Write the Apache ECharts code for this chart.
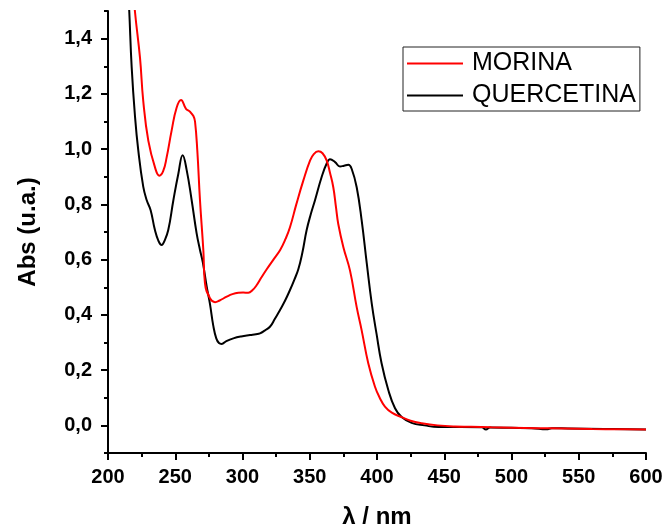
<!DOCTYPE html>
<html>
<head>
<meta charset="utf-8">
<script src="https://cdn.jsdelivr.net/npm/echarts@6/dist/echarts.min.js"></script>
<style>
  html, body { margin: 0; padding: 0; background: #fff; }
  #chart { width: 665px; height: 531px; }
</style>
</head>
<body>
<div id="chart"></div>
<script>
// UV-Vis absorption spectra: [wavelength (nm), absorbance]
const seriesNames = ['MORINA', 'QUERCETINA'];

const morina = [
  [219.5, 1.55], [220, 1.50], [223.8, 1.33], [226.2, 1.175], [230, 1.03],
  [235, 0.933], [238.2, 0.904], [241, 0.92], [243.6, 0.97], [247.3, 1.067],
  [251, 1.15], [254.3, 1.178], [258, 1.146], [261, 1.135], [263.5, 1.12],
  [264.7, 1.10], [266.4, 0.995], [268.4, 0.814], [270.9, 0.633], [272.1, 0.514],
  [275.8, 0.46], [279.6, 0.446], [283, 0.452], [288.3, 0.466], [292.5, 0.475],
  [296.9, 0.48], [300.5, 0.481], [304.3, 0.48], [307.5, 0.49], [310.6, 0.508],
  [314, 0.535], [318, 0.565], [323, 0.60], [328, 0.635], [332, 0.675],
  [335.3, 0.717], [340, 0.80], [345.2, 0.886], [350.2, 0.958], [353, 0.982],
  [356.4, 0.992], [359.5, 0.985], [362.6, 0.958], [365, 0.915], [367.5, 0.862],
  [369.5, 0.79], [371.2, 0.729], [375, 0.645], [379.9, 0.561], [384.9, 0.428],
  [388.6, 0.344], [393.5, 0.225], [398.5, 0.14], [402, 0.10], [405.9, 0.068],
  [411, 0.046], [418.3, 0.03], [425, 0.017], [433.2, 0.008], [445, 0.0],
  [458, -0.004], [470, -0.005], [485, -0.007], [500, -0.0085], [520, -0.01],
  [540, -0.011], [560, -0.013], [580, -0.014], [600, -0.015]
];

const quercetina = [
  [215.2, 1.55], [215.8, 1.50], [217.6, 1.297], [220.1, 1.117], [222.5, 0.996],
  [226.2, 0.864], [228.8, 0.815], [231.7, 0.779], [234.9, 0.707], [237.5, 0.668],
  [239.9, 0.653], [242, 0.668], [244.8, 0.707], [248.6, 0.815], [252.3, 0.911],
  [255.5, 0.978], [258.5, 0.924], [262.2, 0.815], [265.9, 0.695], [268.4, 0.635],
  [270.5, 0.59], [273.4, 0.502], [275.8, 0.44], [278.3, 0.36], [280.5, 0.315],
  [282.5, 0.298], [284.5, 0.295], [288, 0.305], [293.2, 0.315], [299, 0.322],
  [305.6, 0.327], [310, 0.33], [313, 0.333], [316.5, 0.343], [320.4, 0.357],
  [324, 0.385], [327.9, 0.418], [331.5, 0.45], [335.3, 0.49], [338.5, 0.527],
  [341.5, 0.565], [344.5, 0.625], [347.7, 0.707], [350.8, 0.765], [353.9, 0.815],
  [358.9, 0.9], [362.6, 0.948], [365.1, 0.963], [368.8, 0.953], [372.5, 0.937],
  [375.5, 0.94], [378.7, 0.943], [381.2, 0.928], [384.9, 0.862], [388.6, 0.742],
  [392.4, 0.586], [396.1, 0.441], [399.7, 0.33], [403.4, 0.225], [408.4, 0.128],
  [413.4, 0.062], [418.3, 0.03], [425.7, 0.009], [435.3, 0.0], [445.6, -0.006],
  [462, -0.006], [478, -0.007], [481, -0.015], [484, -0.008], [500, -0.009],
  [515, -0.01], [526, -0.014], [530, -0.01], [542, -0.011], [569, -0.013],
  [600, -0.015]
];

const yMajorTicks = [0, 0.2, 0.4, 0.6, 0.8, 1.0, 1.2, 1.4];

const fontFamily = '"Liberation Sans", Arial, sans-serif';
const commaFmt = v => v.toFixed(1).replace('.', ',');

const chart = echarts.init(document.getElementById('chart'), null, { renderer: 'canvas' });

chart.setOption({
  animation: false,
  backgroundColor: '#ffffff',
  grid: { left: 108, right: 19, top: 11, bottom: 78, containLabel: false, outerBoundsMode: 'none' },
  legend: {
    orient: 'vertical',
    left: 403,
    top: 47,
    data: seriesNames.map(n => ({ name: n, icon: 'rect' })),
    backgroundColor: '#ffffff',
    borderColor: '#222',
    borderWidth: 1,
    borderRadius: 0,
    padding: [4, 4, 3, 4],
    itemGap: 7,
    itemWidth: 56,
    itemHeight: 2,
    textStyle: {
      fontFamily: fontFamily,
      fontSize: 25,
      color: '#000',
      lineHeight: 25,
      padding: [0, 0, 0, 4]
    }
  },
  xAxis: {
    type: 'value',
    min: 200,
    max: 600,
    interval: 50,
    name: 'λ / nm',
    nameLocation: 'middle',
    nameGap: 52,
    nameTextStyle: { fontFamily: fontFamily, fontSize: 24, fontWeight: 'bold', color: '#000' },
    axisLine: { onZero: false, lineStyle: { color: '#000', width: 2 } },
    axisTick: { show: true, inside: false, length: 7, lineStyle: { color: '#000', width: 2 } },
    minorTick: { show: true, splitNumber: 2, length: 4, lineStyle: { color: '#000', width: 2 } },
    axisLabel: { fontFamily: fontFamily, fontSize: 20, fontWeight: 'bold', color: '#000', margin: 14 },
    splitLine: { show: false }
  },
  yAxis: [
    {
      type: 'value',
      min: -0.1,
      max: 1.5,
      position: 'left',
      name: 'Abs (u.a.)',
      nameLocation: 'middle',
      nameGap: 68,
      nameRotate: 90,
      nameTextStyle: { fontFamily: fontFamily, fontSize: 24, fontWeight: 'bold', color: '#000' },
      axisLine: { show: true, onZero: false, lineStyle: { color: '#000', width: 2 } },
      axisTick: { show: true, inside: false, length: 7, customValues: yMajorTicks, lineStyle: { color: '#000', width: 2 } },
      axisLabel: { fontFamily: fontFamily, fontSize: 20, fontWeight: 'bold', color: '#000', margin: 16, customValues: yMajorTicks, formatter: commaFmt },
      splitLine: { show: false }
    },
    {
      // minor ticks every 0.1 on the same scale
      type: 'value',
      min: -0.1,
      max: 1.5,
      interval: 0.1,
      position: 'left',
      axisLine: { show: false, onZero: false },
      axisTick: { show: true, inside: false, length: 4, lineStyle: { color: '#000', width: 2 } },
      axisLabel: { show: false },
      splitLine: { show: false }
    }
  ],
  series: [
    {
      name: seriesNames[0],
      type: 'line',
      data: morina,
      yAxisIndex: 0,
      smooth: 0.45,
      symbol: 'none',
      clip: true,
      lineStyle: { color: '#ff0000', width: 2 },
      itemStyle: { color: '#ff0000' },
      z: 3
    },
    {
      name: seriesNames[1],
      type: 'line',
      data: quercetina,
      yAxisIndex: 0,
      smooth: 0.45,
      symbol: 'none',
      clip: true,
      lineStyle: { color: '#000000', width: 2 },
      itemStyle: { color: '#000000' },
      z: 2
    }
  ]
});
</script>
</body>
</html>
